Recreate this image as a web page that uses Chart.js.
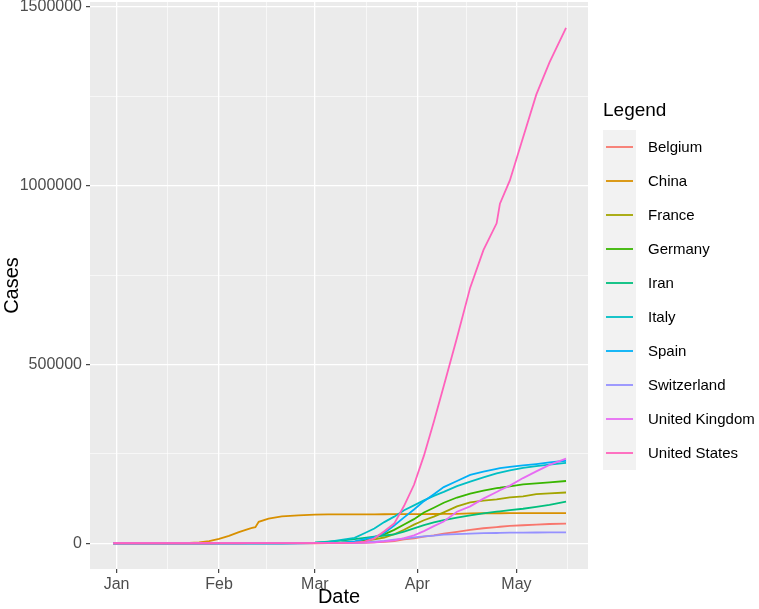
<!DOCTYPE html>
<html>
<head>
<meta charset="utf-8">
<script src="https://cdn.jsdelivr.net/npm/chart.js@4.4.1/dist/chart.umd.min.js"></script>
<style>
  html, body { margin: 0; padding: 0; background: #ffffff; }
  #wrap { width: 759px; height: 609px; }
</style>
</head>
<body>
<div id="wrap"><canvas id="casesChart" width="759" height="609"></canvas></div>
<script>
// days counted from 1 Jan 2020 (day -1 = 31 Dec 2019)
const days = [-1, 19, 22, 25, 28, 31, 34, 37, 40, 41, 42, 43, 46, 50, 55,
  60, 64, 68, 72, 75, 78, 81, 84, 87, 90, 93, 96, 99, 103, 107, 111, 115, 116, 119, 123, 127, 131, 136];

const countries = ['Belgium', 'China', 'France', 'Germany', 'Iran', 'Italy', 'Spain', 'Switzerland', 'United Kingdom', 'United States'];

const belgium = [0, 0, 0, 0, 0, 0, 1, 1, 1, 1, 1, 1, 1, 1, 1,
  2, 60, 280, 690, 1240, 2260, 3740, 6235, 10840, 13960, 18430, 22200, 26670, 31800, 37180, 41900, 45330, 46130, 48520, 50270, 52010, 53780, 55000];
const china = [27, 280, 570, 2050, 5990, 11890, 20470, 31260, 40240, 42710, 44730, 59880, 68590, 75100, 77780,
  79900, 80450, 80760, 80820, 80880, 80990, 81090, 81290, 81450, 81560, 81660, 81770, 81930, 82200, 83760, 83860, 83890, 83900, 83950, 83970, 83990, 84010, 84040];
const france = [0, 0, 0, 3, 4, 6, 6, 6, 11, 11, 11, 11, 12, 12, 14,
  130, 380, 1410, 3660, 6630, 10990, 16020, 25230, 37580, 52130, 64340, 74390, 86330, 103000, 114000, 119000, 122580, 124110, 128440, 131290, 137150, 139520, 141920];
const germany = [0, 0, 0, 0, 4, 7, 12, 13, 14, 16, 16, 16, 16, 16, 16,
  130, 540, 1220, 3680, 7270, 15320, 24870, 37320, 52550, 67370, 85780, 99230, 113300, 127850, 139000, 146940, 154180, 155190, 159120, 164810, 167300, 170510, 174100];
const iran = [0, 0, 0, 0, 0, 0, 0, 0, 0, 0, 0, 0, 0, 5, 95,
  1500, 4750, 7160, 11360, 14990, 18400, 21640, 24810, 32330, 41500, 50470, 58230, 64590, 71690, 78000, 83500, 88190, 89330, 92580, 96450, 101650, 107600, 116640];
const italy = [0, 0, 0, 0, 0, 2, 2, 3, 3, 3, 3, 3, 3, 3, 229,
  1700, 3860, 9170, 15110, 27980, 41040, 59140, 74390, 92470, 105790, 119830, 132550, 143630, 159520, 172430, 183960, 195350, 197680, 203590, 210720, 215860, 219810, 224760];
const spain = [0, 0, 0, 0, 0, 1, 1, 1, 2, 2, 2, 2, 2, 2, 6,
  120, 260, 1640, 5230, 11180, 17150, 28570, 49500, 72250, 94420, 117710, 137000, 157000, 174000, 191000, 200000, 208000, 210000, 213500, 217500, 221500, 226000, 230700];
const switzerland = [0, 0, 0, 0, 0, 0, 0, 0, 0, 0, 0, 0, 0, 0, 1,
  24, 90, 330, 1130, 2200, 4220, 6580, 9880, 13150, 16110, 19300, 21100, 24050, 25690, 27080, 28060, 28680, 28890, 29410, 29820, 30060, 30250, 30520];
const unitedKingdom = [0, 0, 0, 0, 0, 2, 2, 3, 8, 8, 9, 9, 9, 9, 13,
  36, 120, 320, 800, 1540, 2630, 5020, 8080, 14540, 22140, 33720, 47810, 60730, 88000, 103090, 124740, 143460, 148380, 161150, 182260, 201100, 219180, 236710];
const unitedStates = [0, 1, 1, 2, 5, 7, 11, 12, 12, 12, 13, 15, 15, 15, 53,
  70, 150, 540, 1700, 4700, 13700, 33300, 55000, 104800, 163500, 245000, 340000, 440000, 575000, 715000, 820000, 895000, 950000, 1015000, 1135000, 1255000, 1345000, 1442000];

const seriesValues = [belgium, china, france, germany, iran, italy, spain, switzerland, unitedKingdom, unitedStates];

// month ticks (day of year) and labels
const monthDays = [0, 31, 60, 91, 121];
const monthLabels = ['Jan', 'Feb', 'Mar', 'Apr', 'May'];
const minorDays = [15.5, 45.5, 75.5, 106, 136.5];
const yMajor = [0, 500000, 1000000, 1500000];
const yMinor = [250000, 750000, 1250000];

const colores = ['#F8766D', '#D89000', '#A3A500', '#39B600', '#00BF7D', '#00BFC4', '#00B0F6', '#9590FF', '#E76BF3', '#FF62BC'];

const FONT = '"Liberation Sans", Arial, sans-serif';

const datasets = countries.map((name, i) => ({
  label: name,
  data: days.map((d, j) => ({ x: d, y: seriesValues[i][j] })),
  borderColor: colores[i],
  backgroundColor: colores[i],
  borderWidth: 1.8,
  pointRadius: 0,
  tension: 0,
  fill: false,
  order: countries.length - 1 - i
}));

// gris de fondo del panel
const panelBg = {
  id: 'panelBg',
  beforeDraw(chart) {
    const a = chart.chartArea;
    const c = chart.ctx;
    c.save();
    c.fillStyle = '#EBEBEB';
    c.fillRect(a.left, a.top, a.right - a.left, a.bottom - a.top);
    c.restore();
  }
};

// leyenda estilo ggplot a la derecha
const sideLegend = {
  id: 'sideLegend',
  afterDraw(chart) {
    const c = chart.ctx;
    const x0 = chart.chartArea.right + 15;
    c.save();
    c.textBaseline = 'middle';
    c.textAlign = 'left';
    c.fillStyle = '#000000';
    c.font = '19px ' + FONT;
    c.fillText('Legend', x0, 111);
    c.fillStyle = '#F2F2F2';
    c.fillRect(x0, 130, 33, 340);
    chart.data.datasets.forEach((ds, i) => {
      const y = 147 + i * 34;
      c.strokeStyle = ds.borderColor;
      c.lineWidth = 1.8;
      c.beginPath();
      c.moveTo(x0 + 3, y);
      c.lineTo(x0 + 30, y);
      c.stroke();
      c.fillStyle = '#000000';
      c.font = '15px ' + FONT;
      c.fillText(ds.label, x0 + 45, y + 1);
    });
    c.restore();
  }
};

const ctx = document.getElementById('casesChart').getContext('2d');

new Chart(ctx, {
  type: 'line',
  data: { datasets: datasets },
  options: {
    responsive: false,
    animation: false,
    devicePixelRatio: 1,
    layout: { padding: { top: 2, right: 171, left: 0, bottom: 0 } },
    plugins: {
      legend: { display: false },
      tooltip: { enabled: false }
    },
    scales: {
      x: {
        type: 'linear',
        min: -8.05,
        max: 142.65,
        afterBuildTicks: scale => {
          scale.ticks = monthDays.concat(minorDays).sort((a, b) => a - b).map(v => ({ value: v }));
        },
        afterFit: scale => {
          scale.height = 40;
          scale.paddingLeft = 0;
          scale.paddingRight = 0;
        },
        ticks: {
          autoSkip: false,
          maxRotation: 0,
          padding: 2,
          color: '#4D4D4D',
          font: { family: FONT, size: 16 },
          callback: v => {
            const k = monthDays.indexOf(v);
            return k >= 0 ? monthLabels[k] : '';
          }
        },
        grid: {
          color: '#FFFFFF',
          lineWidth: c => (c.tick && monthDays.includes(c.tick.value)) ? 1.3 : 0.6,
          tickColor: c => (c.tick && monthDays.includes(c.tick.value)) ? '#333333' : 'rgba(0,0,0,0)',
          tickLength: 4,
          tickWidth: 1.1
        },
        border: { display: false },
        title: {
          display: true,
          text: 'Date',
          color: '#000000',
          font: { family: FONT, size: 20 },
          padding: { top: 0, bottom: 0 }
        }
      },
      y: {
        type: 'linear',
        min: -72100,
        max: 1514100,
        afterBuildTicks: scale => {
          scale.ticks = yMajor.concat(yMinor).sort((a, b) => a - b).map(v => ({ value: v }));
        },
        afterFit: scale => {
          scale.width = 90;
          scale.paddingTop = 0;
          scale.paddingBottom = 0;
        },
        ticks: {
          autoSkip: false,
          padding: 4,
          color: '#4D4D4D',
          font: { family: FONT, size: 16 },
          callback: v => yMajor.includes(v) ? String(v) : ''
        },
        grid: {
          color: '#FFFFFF',
          lineWidth: c => (c.tick && yMajor.includes(c.tick.value)) ? 1.3 : 0.6,
          tickColor: c => (c.tick && yMajor.includes(c.tick.value)) ? '#333333' : 'rgba(0,0,0,0)',
          tickLength: 4,
          tickWidth: 1.1
        },
        border: { display: false },
        title: {
          display: true,
          text: 'Cases',
          color: '#000000',
          font: { family: FONT, size: 20 },
          padding: { top: 0, bottom: 0 }
        }
      }
    }
  },
  plugins: [panelBg, sideLegend]
});
</script>
</body>
</html>
